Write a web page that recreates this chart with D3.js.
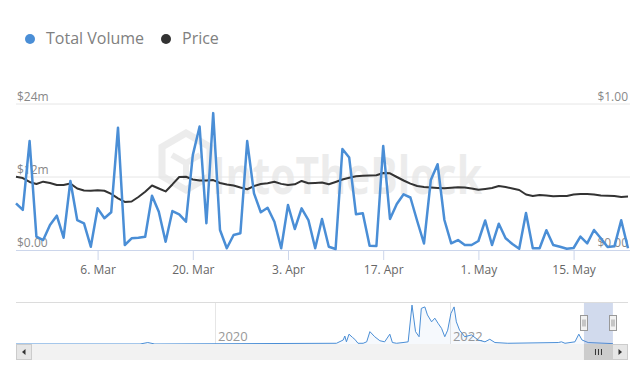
<!DOCTYPE html>
<html><head><meta charset="utf-8">
<script src="https://cdn.jsdelivr.net/npm/d3@7"></script>
<style>
html,body{margin:0;padding:0;background:#fff;}
svg{display:block;font-family:"Open Sans",sans-serif;}
</style></head>
<body><svg id="c" width="640" height="382"></svg>
<script>
// ---------- DATA ----------
const startDate = "2023-02-22";
const volume = [7.68,6.58,17.9,2.19,1.64,4.11,5.64,2.02,11.34,4.93,4.39,0.54,6.85,5.21,6.2,20.1,0.82,1.92,2.02,2.19,
  8.93,6.3,1.36,6.41,5.87,4.65,15.6,20.3,4.39,22.5,3.29,0.28,2.47,2.75,17.9,9.32,6.2,6.95,4.65,0.28,
  7.4,3.45,6.85,4.93,0.28,5.1,0.54,0.16,16.6,15.2,5.87,6.03,0.71,0.66,17.1,5.1,7.56,9.16,8.63,4.77,
  1.07,11.5,14.1,4.93,1.1,1.64,0.82,0.82,1.48,4.85,0.82,4.32,1.92,0.99,0.21,6.1,0.28,0.28,3.24,0.82,
  0.54,0.21,0.33,2.19,1.1,3.29,1.92,0.49,0.6,4.88,0.28];
const price = [0.502,0.493,0.466,0.452,0.468,0.459,0.445,0.445,0.455,0.421,0.408,0.406,0.409,0.406,0.384,0.354,0.329,0.332,0.363,0.399,
  0.442,0.421,0.401,0.449,0.500,0.502,0.483,0.476,0.476,0.479,0.459,0.449,0.442,0.428,0.416,0.438,0.452,0.457,0.467,0.453,
  0.445,0.450,0.473,0.457,0.459,0.462,0.450,0.466,0.483,0.495,0.505,0.509,0.510,0.512,0.527,0.525,0.500,0.476,0.455,0.438,
  0.432,0.428,0.425,0.423,0.427,0.429,0.428,0.421,0.412,0.418,0.425,0.438,0.432,0.421,0.411,0.380,0.370,0.377,0.373,0.368,
  0.370,0.370,0.380,0.384,0.384,0.380,0.373,0.371,0.370,0.363,0.366];
const xTickDates = ["2023-03-06","2023-03-20","2023-04-03","2023-04-17","2023-05-01","2023-05-15"];
const volTicks = [0, 12, 24];
const volTickLabels = ["$0.00", "$12m", "$24m"];
const priceTicks = [0, 1];
const priceTickLabels = ["$0.00", "$1.00"];
const legendLabels = ["Total Volume", "Price"];
// navigator (full history) volume, $m
const navDates = ["2018-04-22","2019-05-13","2019-06-06","2019-06-28","2021-01-13","2021-02-03","2021-02-08","2021-02-13","2021-02-21","2021-03-04",
  "2021-03-11","2021-03-21","2021-04-06","2021-04-17","2021-04-27","2021-05-12","2021-05-28","2021-06-12","2021-06-28","2021-07-06",
  "2021-07-19","2021-08-08","2021-08-24","2021-09-05","2021-09-16","2021-09-27","2021-10-04","2021-10-15","2021-10-23","2021-11-05",
  "2021-11-15","2021-11-25","2021-12-06","2021-12-16","2021-12-25","2022-01-04","2022-01-14","2022-01-21","2022-01-31","2022-02-16",
  "2022-03-09","2022-03-30","2022-04-20","2022-05-05","2022-05-21","2022-06-30","2022-12-04","2022-12-14","2022-12-25","2023-01-25",
  "2023-02-06","2023-02-16","2023-03-07","2023-05-23"];
const navValues = [0,0,4,0,2,11,22,6,27,18,
  13,2,2,6,34,20,9,6,27,4,
  2,4,6,107,34,20,98,102,80,61,
  71,57,43,20,38,84,102,61,38,20,
  25,11,6,13,4,2,4,6,2,6,
  27,11,4,1];
const navYearTicks = ["2020-01-01","2022-01-01"];
const navDomain = ["2018-04-22","2023-07-09"];

// ---------- CHART ----------
const svg = d3.select("#c");
const parse = d3.timeParse("%Y-%m-%d");
const t0 = parse(startDate);
const dates = volume.map((_, i) => d3.timeDay.offset(t0, i));

const colVol = "#4a8ed6", colPrice = "#333333";
const x = d3.scaleTime().domain([dates[0], dates[dates.length - 1]]).range([16, 628]);
const yV = d3.scaleLinear().domain([0, 24]).range([250, 104]);
const yP = d3.scaleLinear().domain([0, 1]).range([250, 104]);

// watermark
const wm = svg.append("g").attr("opacity", 0.07);
wm.append("path").attr("d", "M186,133 L210,147 L210,176 L186,190 L162,176 L162,147 Z")
  .attr("fill", "none").attr("stroke", "#000").attr("stroke-width", 7);
wm.append("path").attr("d", "M172,155 L186,163 L200,155 M186,163 L186,180")
  .attr("fill", "none").attr("stroke", "#000").attr("stroke-width", 6);
wm.append("text").attr("x", 212).attr("y", 194).attr("font-size", 52).attr("font-weight", 700)
  .attr("textLength", 270).attr("lengthAdjust", "spacingAndGlyphs").attr("fill", "#000").text("IntoTheBlock");

// grid
svg.append("g").selectAll("line").data(volTicks.filter(d => d > 0)).join("line")
  .attr("x1", 16).attr("x2", 630).attr("y1", d => yV(d)).attr("y2", d => yV(d))
  .attr("stroke", "#e6e6e6").attr("stroke-width", 1);

// y labels
svg.append("g").selectAll("text").data(volTicks).join("text")
  .attr("x", 17).attr("y", d => yV(d) - 3).attr("font-size", 12).attr("fill", "#888")
  .text((d, i) => volTickLabels[i]);
svg.append("g").selectAll("text").data(priceTicks).join("text")
  .attr("x", 628).attr("y", d => yP(d) - 3).attr("text-anchor", "end").attr("font-size", 12).attr("fill", "#888")
  .text((d, i) => priceTickLabels[i]);

// x axis
const xAxis = d3.axisBottom(x).tickValues(xTickDates.map(parse)).tickFormat(d3.timeFormat("%-d. %b")).tickSize(10).tickSizeOuter(0);
const gx = svg.append("g").attr("transform", "translate(0,250)").call(xAxis);
gx.select(".domain").attr("stroke", "#ccd6eb").attr("d", "M16,0.5H630");
gx.selectAll(".tick line").attr("stroke", "#ccd6eb");
gx.selectAll(".tick text").attr("fill", "#666").attr("font-size", 12).attr("font-family", "Open Sans, sans-serif").attr("dy", "0.95em");

// lines
svg.append("path").datum(price)
  .attr("d", d3.line().x((d, i) => x(dates[i])).y(d => yP(d)))
  .attr("fill", "none").attr("stroke", colPrice).attr("stroke-width", 2).attr("stroke-linejoin", "round");
svg.append("path").datum(volume)
  .attr("d", d3.line().x((d, i) => x(dates[i])).y(d => yV(d)))
  .attr("fill", "none").attr("stroke", colVol).attr("stroke-width", 2.5).attr("stroke-linejoin", "round");

// legend
const lg = svg.append("g");
[[30, colVol], [166, colPrice]].forEach(([cx, c], i) => {
  lg.append("circle").attr("cx", cx).attr("cy", 39).attr("r", 5).attr("fill", c);
  lg.append("text").attr("x", cx + 16).attr("y", 44).attr("font-size", 16).attr("fill", "#808080").text(legendLabels[i]);
});

// ---------- NAVIGATOR ----------
const nx = d3.scaleTime().domain(navDomain.map(parse)).range([16, 628]);
const ny = d3.scaleLinear().domain([0, 110]).range([344, 304]);
svg.append("line").attr("x1", 16).attr("x2", 628).attr("y1", 302.5).attr("y2", 302.5).attr("stroke", "#dcdcdc");
const ng = svg.append("g");
ng.selectAll("line").data(navYearTicks.map(parse)).join("line")
  .attr("x1", d => Math.round(nx(d)) + 0.5).attr("x2", d => Math.round(nx(d)) + 0.5)
  .attr("y1", 303).attr("y2", 344).attr("stroke", "#e6e6e6");
ng.selectAll("text").data(navYearTicks.map(parse)).join("text")
  .attr("x", d => nx(d) + 3).attr("y", 341).attr("font-size", 13).attr("fill", "#999")
  .text(d => d3.timeFormat("%Y")(d));
const navPts = navDates.map((d, i) => [parse(d), navValues[i]]);
svg.append("path").datum(navPts)
  .attr("d", d3.area().x(d => nx(d[0])).y0(344).y1(d => ny(d[1])))
  .attr("fill", colVol).attr("fill-opacity", 0.05);
svg.append("path").datum(navPts)
  .attr("d", d3.line().x(d => nx(d[0])).y(d => ny(d[1])))
  .attr("fill", "none").attr("stroke", colVol).attr("stroke-width", 1);

// selection mask
const m0 = nx(dates[0]), m1 = nx(dates[dates.length - 1]);
svg.append("rect").attr("x", m0).attr("y", 303).attr("width", m1 - m0).attr("height", 41)
  .attr("fill", "rgba(102,133,194,0.3)");

// scrollbar
const sb = svg.append("g");
sb.append("rect").attr("x", 16).attr("y", 344).attr("width", 612).attr("height", 16).attr("fill", "#f2f2f2");
sb.append("rect").attr("x", m0).attr("y", 344).attr("width", 612 - m0).attr("height", 16).attr("fill", "#cccccc");
[[16.5, -1], [612.5, 1]].forEach(([bx, dir]) => {
  sb.append("rect").attr("x", bx).attr("y", 344.5).attr("width", 15).attr("height", 15)
    .attr("fill", "#e6e6e6").attr("stroke", "#cccccc");
  const cx = bx + 7.5, cy = 352;
  sb.append("path").attr("d", dir < 0 ? `M${cx - 2},${cy} L${cx + 1.5},${cy - 3} L${cx + 1.5},${cy + 3} Z`
                                       : `M${cx + 2},${cy} L${cx - 1.5},${cy - 3} L${cx - 1.5},${cy + 3} Z`)
    .attr("fill", "#333");
});
const gx0 = (m0 + 612) / 2;
[-3, 0, 3].forEach(o => sb.append("line").attr("x1", gx0 + o + 0.5).attr("x2", gx0 + o + 0.5)
  .attr("y1", 349).attr("y2", 355).attr("stroke", "#333"));

// handles
[m0, m1].forEach(hx => {
  const h = svg.append("g").attr("transform", `translate(${Math.round(hx) - 3.5},315.5)`);
  h.append("rect").attr("width", 7).attr("height", 15).attr("fill", "#f2f2f2").attr("stroke", "#999");
  h.append("line").attr("x1", 2.5).attr("x2", 2.5).attr("y1", 4).attr("y2", 11).attr("stroke", "#999");
  h.append("line").attr("x1", 4.5).attr("x2", 4.5).attr("y1", 4).attr("y2", 11).attr("stroke", "#999");
});
</script></body></html>
